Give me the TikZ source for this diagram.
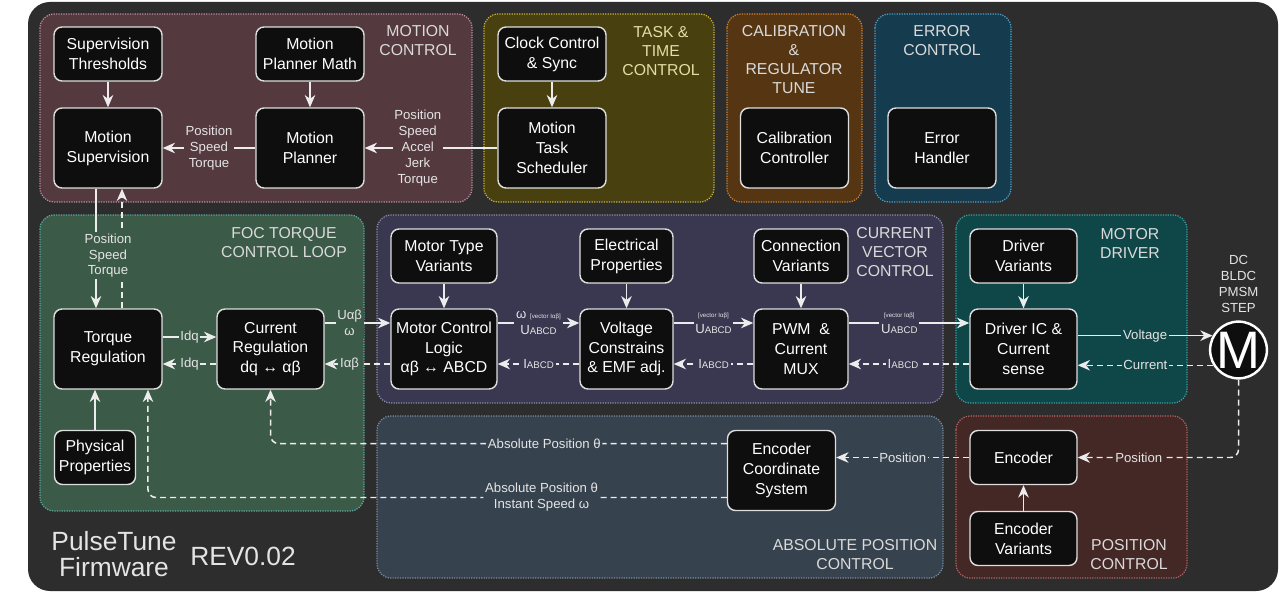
\documentclass[tikz,border=0pt]{standalone}
\usepackage{fontspec}
\setmainfont{Liberation Sans}
\usetikzlibrary{arrows.meta,shapes,positioning}
\definecolor{panel}{RGB}{45,45,45}
\definecolor{boxfill}{RGB}{14,14,14}
\definecolor{boxline}{RGB}{222,222,222}
\definecolor{wire}{RGB}{236,236,236}
\definecolor{labeltext}{RGB}{228,228,228}
\definecolor{titletext}{RGB}{218,218,218}
\definecolor{tasktext}{RGB}{230,220,165}
\definecolor{fillMC}{RGB}{84,57,63}   \definecolor{lineMC}{RGB}{190,140,160}
\definecolor{fillTT}{RGB}{72,64,14}   \definecolor{lineTT}{RGB}{200,180,60}
\definecolor{fillCB}{RGB}{86,54,18}   \definecolor{lineCB}{RGB}{210,130,50}
\definecolor{fillER}{RGB}{20,60,78}   \definecolor{lineER}{RGB}{80,160,200}
\definecolor{fillFOC}{RGB}{60,90,72}  \definecolor{lineFOC}{RGB}{90,170,160}
\definecolor{fillCV}{RGB}{58,56,80}   \definecolor{lineCV}{RGB}{140,140,170}
\definecolor{fillMD}{RGB}{15,70,72}   \definecolor{lineMD}{RGB}{60,160,160}
\definecolor{fillAP}{RGB}{54,66,78}   \definecolor{lineAP}{RGB}{120,140,160}
\definecolor{fillPC}{RGB}{68,40,38}   \definecolor{linePC}{RGB}{180,100,100}
\tikzstyle{block}=[draw=boxline,fill=boxfill,text=white,rounded corners=0.16cm,line width=0.8pt,align=center,font=\fontsize{9}{11.3}\selectfont,minimum width=2.16cm,minimum height=1.6cm,inner sep=1pt]
\tikzstyle{lowblock}=[minimum height=1.08cm]
\tikzstyle{group}=[rounded corners=0.28cm,line width=0.7pt,dash pattern=on 0.7pt off 0.7pt]
\tikzstyle{grouptitle}=[align=center,font=\fontsize{9}{10.8}\selectfont]
\tikzstyle{flowlabel}=[text=labeltext,align=center,font=\fontsize{7.5}{9}\selectfont,inner sep=1pt]
\tikzstyle{flow}=[draw=wire,line width=0.85pt,-{Stealth[length=7pt,width=6pt,inset=2.2pt]}]
\tikzstyle{feedback}=[flow,dash pattern=on 3.4pt off 2.3pt]
\tikzstyle{motor}=[circle,draw=white,line width=1.4pt,fill=boxfill,text=white,minimum size=1.08cm,inner sep=0pt,font=\fontsize{30}{30}\selectfont]
\tikzstyle{brand}=[text=labeltext,align=center,font=\fontsize{15}{15}\selectfont]
\newcommand{\uabcd}{U{\fontsize{5.5}{6}\selectfont ABCD}}
\newcommand{\iabcd}{I{\fontsize{5.5}{6}\selectfont ABCD}}
\newcommand{\vecI}{{\fontsize{3.5}{4}\selectfont[vector Iαβ]}}

\begin{document}
\begin{tikzpicture}[x=0.02cm,y=-0.02cm]
    % Background and dark panel
    \fill[white] (0,0) rectangle (1280,594);
    \fill[panel,rounded corners=0.44cm] (28,2) rectangle (1278,591);
    % Group areas
    \foreach \a/\b/\g in {{(40,14)/(472,202)/MC}, {(484,14)/(714,202)/TT}, {(727,14)/(862,202)/CB},
        {(875,14)/(1011,202)/ER}, {(40,215)/(364,511)/FOC}, {(377,215)/(943,403)/CV},
        {(956,215)/(1187,403)/MD}, {(377,416)/(943,578)/AP}, {(956,416)/(1187,578)/PC}}
        \draw[group,draw=line\g,fill=fill\g] \a rectangle \b;
    % Group titles
    \foreach \pos/\name/\col/\txt in {{(418,41)/tMC/titletext/{MOTION\\CONTROL}}, {(661,51)/tTT/tasktext/{TASK \&\\TIME\\CONTROL}},
        {(794,60)/tCB/titletext/{CALIBRATION\\\&\\REGULATOR\\TUNE}}, {(942,41)/tER/titletext/{ERROR\\CONTROL}},
        {(284,243)/tFOC/titletext/{FOC TORQUE\\CONTROL LOOP}}, {(895,252)/tCV/titletext/{CURRENT\\VECTOR\\CONTROL}},
        {(1130,243)/tMD/titletext/{MOTOR\\DRIVER}}, {(855,555)/tAP/titletext/{ABSOLUTE POSITION\\CONTROL}},
        {(1129,555)/tPC/titletext/{POSITION\\CONTROL}}}
        \node[grouptitle,text=\col] (\name) at \pos {\txt};
    % Tall blocks
    \foreach \pos/\name/\w/\txt in {{(108,148)/ms/2.16/{Motion\\Supervision}}, {(310,148)/mp/2.16/{Motion\\Planner}},
        {(552,148)/sched/2.16/{Motion\\Task\\Scheduler}}, {(794.5,148)/calc/2.16/{Calibration\\Controller}},
        {(942,148)/errh/2.16/{Error\\Handler}}, {(108,349)/tr/2.16/{Torque\\Regulation}},
        {(270.5,349)/crg/2.14/{Current\\Regulation\\dq ↔ αβ}}, {(444,349)/mcl/2.12/{Motor Control\\Logic\\αβ ↔ ABCD}},
        {(626.5,349)/vc/1.86/{Voltage\\Constrains\\\& EMF adj.}}, {(801,349)/pwm/1.88/{PWM~~\&\\Current\\MUX}},
        {(1023.5,349)/drv/2.14/{Driver IC \&\\Current\\sense}}, {(781.5,470.5)/ecs/2.16/{Encoder\\Coordinate\\System}}}
        \node[block,minimum width=\w cm] (\name) at \pos {\txt};
    % Low blocks
    \foreach \pos/\name/\w/\txt in {{(108,54)/st/2.16/{Supervision\\Thresholds}}, {(310,54)/pmm/2.16/{Motion\\Planner Math}},
        {(552,54)/clk/2.16/{Clock Control\\\& Sync}}, {(444,256)/mtv/2.12/{Motor Type\\Variants}},
        {(626.5,256)/ep/1.86/{Electrical\\Properties}}, {(801,256)/cv/1.88/{Connection\\Variants}},
        {(1023.5,256)/dv/2.14/{Driver\\Variants}}, {(95,457.5)/pp/1.62/{Physical\\Properties}},
        {(1023.5,457.5)/enc/2.14/{Encoder}}, {(1023.5,538.5)/ev/2.14/{Encoder\\Variants}}}
        \node[block,lowblock,minimum width=\w cm] (\name) at \pos {\txt};
    % Motor
    \node[motor] (mot) at (1238.5,350) {M};
    \node[flowlabel,above=0.12cm of mot] (types) {DC\\BLDC\\PMSM\\STEP};
    % Plain feeds
    \foreach \source/\dest in {st/ms, pmm/mp, clk/sched, mtv/mcl, ep/vc, cv/pwm, dv/drv, ev/enc}
        \draw[flow] (\source) -- (\dest);
    \draw[flow] (pp) -- (pp.north |- tr.south);
    % Motion control
    \draw[flow] (mp) -- node[flowlabel,fill=fillMC]{Position\\Speed\\Torque} (ms);
    \draw[flow] (sched) -- node[flowlabel,fill=fillMC,pos=0.6]{Position\\Speed\\Accel\\Jerk\\Torque} (mp);
    \draw[feedback] ([xshift=0.28cm]tr.north) -- ([xshift=0.28cm]ms.south);
    \draw[flow] ([xshift=-0.24cm]ms.south) -- node[flowlabel,fill=fillFOC,pos=0.56,xshift=0.24cm]{Position\\Speed\\Torque} ([xshift=-0.24cm]tr.north);
    % FOC loop
    \draw[flow] ([yshift=0.24cm]tr.east) -- node[flowlabel,fill=fillFOC]{Idq} ([yshift=0.24cm]crg.west);
    \draw[feedback] ([yshift=-0.30cm]crg.west) -- node[flowlabel,fill=fillFOC]{Idq} ([yshift=-0.30cm]tr.east);
    \draw[flow] ([yshift=0.52cm]crg.east) -- node[flowlabel,fill=fillFOC,pos=0.38]{Uαβ\\ω} ([yshift=0.52cm]mcl.west);
    \draw[feedback] ([yshift=-0.30cm]mcl.west) -- node[flowlabel,fill=fillFOC,pos=0.62]{Iαβ} ([yshift=-0.30cm]crg.east);
    % Current vector chain
    \draw[flow] ([yshift=0.52cm]mcl.east) -- node[flowlabel,fill=fillCV]{ω \vecI\\\uabcd} ([yshift=0.52cm]vc.west);
    \draw[feedback] ([yshift=-0.30cm]vc.west) -- node[flowlabel,fill=fillCV]{\iabcd} ([yshift=-0.30cm]mcl.east);
    \draw[flow] ([yshift=0.52cm]vc.east) -- node[flowlabel,fill=fillCV]{\vecI\\\uabcd} ([yshift=0.52cm]pwm.west);
    \draw[feedback] ([yshift=-0.30cm]pwm.west) -- node[flowlabel,fill=fillCV]{\iabcd} ([yshift=-0.30cm]vc.east);
    \draw[flow] ([yshift=0.52cm]pwm.east) -- node[flowlabel,fill=fillCV,pos=0.42]{\vecI\\\uabcd} ([yshift=0.52cm]drv.west);
    \draw[feedback] ([yshift=-0.30cm]drv.west) -- node[flowlabel,fill=fillCV,pos=0.55]{\iabcd} ([yshift=-0.30cm]pwm.east);
    % Driver and motor
    \draw[flow] (drv.east |- mot.151) -- node[flowlabel,fill=fillMD]{Voltage} (mot.151);
    \draw[feedback] (mot.211) -- node[flowlabel,fill=fillMD]{Current} (drv.east |- mot.211);
    % Position feedback
    \draw[feedback,rounded corners=0.16cm] (mot) |- node[flowlabel,fill=fillPC,pos=0.81]{Position} (enc);
    \draw[feedback] (enc) -- node[flowlabel,fill=fillAP]{Position} (enc.west -| ecs.east);
    \draw[feedback,rounded corners=0.16cm] ([yshift=0.54cm]ecs.west) -| node[flowlabel,fill=fillAP,pos=0.2]{Absolute Position θ} (crg);
    \draw[feedback,rounded corners=0.16cm] ([yshift=-0.54cm]ecs.west) -| node[flowlabel,fill=fillAP,pos=0.16]{Absolute Position θ\\Instant Speed ω} ([xshift=0.8cm]tr.south);
    % Firmware name
    \node[brand] (fw) at (114,554) {PulseTune\\Firmware};
    \node[brand] (rev) at (243,556) {REV0.02};
\end{tikzpicture}
\end{document}
